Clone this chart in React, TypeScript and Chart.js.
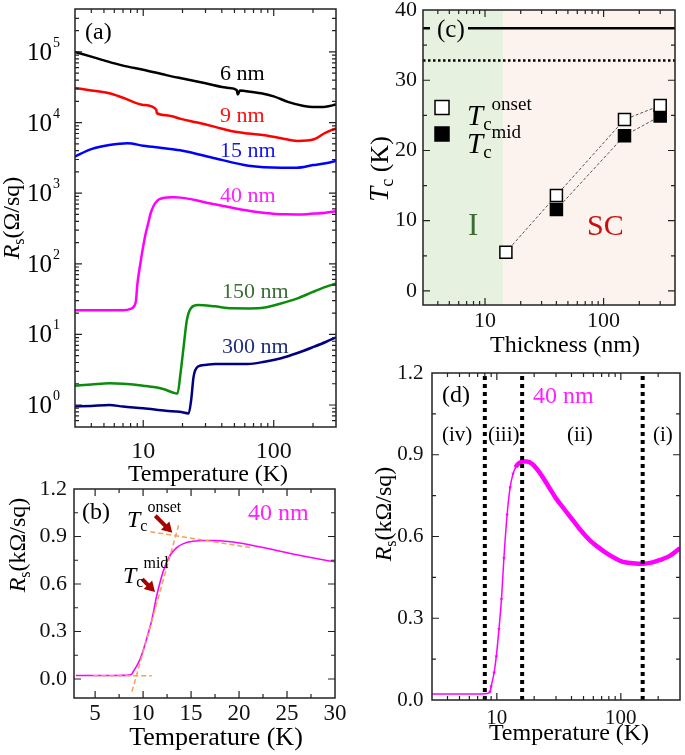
import { useEffect, useRef } from 'react';
import { Chart, registerables } from 'chart.js';
Chart.register(...registerables);

const W = 685;
const H = 755;
const FONT = '"Liberation Serif", "Times New Roman", Times, serif';

// ---------- (a) sheet resistance Rs (Ω/sq) vs temperature (K) ----------
const T6 = [3, 4, 5, 7, 10, 15, 20, 30, 45, 52, 53, 55, 60, 80, 100, 130, 170, 200, 250, 300];
const R6 = [1.0e5, 8.6e4, 7.6e4, 6.4e4, 5.6e4, 4.7e4, 4.2e4, 3.6e4, 3.1e4, 2.9e4, 2.5e4, 2.85e4, 2.8e4, 2.6e4, 2.35e4, 1.95e4, 1.72e4, 1.66e4, 1.68e4, 1.8e4];
const T9 = [3, 4, 5.5, 7, 10, 12.6, 12.7, 15, 19.7, 26, 35.5, 47, 63.5, 85, 114, 152, 204, 243, 300];
const R9 = [3.1e4, 2.85e4, 2.6e4, 2.25e4, 1.78e4, 1.52e4, 1.36e4, 1.27e4, 1.12e4, 1.0e4, 8.7e3, 7.6e3, 7.0e3, 6.6e3, 6.0e3, 5.5e3, 5.8e3, 7.0e3, 8.3e3];
const T15 = [3, 4, 5.5, 7.6, 10, 15, 20, 36, 64, 114, 150, 200, 250, 300];
const R15 = [3.3e3, 4.2e3, 4.8e3, 5.1e3, 4.7e3, 4.3e3, 4.0e3, 3.1e3, 2.45e3, 2.3e3, 2.3e3, 2.5e3, 2.65e3, 2.85e3];
// 40 nm film, in kΩ/sq (used in panels a, b, d)
const T40 = [3, 4, 5, 6, 7, 8, 8.5, 8.8, 9.0, 9.5, 9.9, 10.4, 10.9, 11.4, 12.1, 12.8, 13.5, 14.2, 15.2, 16.5, 17.5, 19.4, 22.5, 26.4, 30, 35, 41, 48, 56, 66, 77, 90, 104, 125, 150, 180, 207, 250, 300];
const R40 = [0.022, 0.022, 0.022, 0.022, 0.022, 0.023, 0.025, 0.03, 0.05, 0.10, 0.16, 0.26, 0.37, 0.52, 0.68, 0.78, 0.83, 0.855, 0.870, 0.875, 0.875, 0.865, 0.83, 0.78, 0.74, 0.70, 0.66, 0.62, 0.587, 0.56, 0.538, 0.52, 0.507, 0.502, 0.50, 0.505, 0.514, 0.53, 0.557];
const T150 = [3, 4, 5.5, 7, 10, 14, 17.7, 18.3, 19.3, 20.4, 21.6, 23.4, 26.3, 35, 47.6, 65, 85, 110, 152, 200, 250, 300];
const R150 = [1.88, 1.95, 2.03, 2.0, 1.88, 1.7, 1.46, 1.45, 2.8, 6.7, 16, 24, 26, 25, 23.4, 23.3, 24, 27, 32.4, 40, 47, 52.7];
const T300 = [3, 4, 5.5, 7, 10, 14.9, 19, 22.3, 23.3, 24.3, 26.3, 30, 35.5, 63, 85, 114, 150, 204, 250, 300];
const R300 = [0.95, 0.97, 1.0, 0.95, 0.9, 0.83, 0.8, 0.76, 1.18, 2.5, 3.5, 3.7, 3.8, 3.8, 4.1, 4.6, 5.4, 6.7, 7.8, 9.1];

// ---------- (b) tangent construction for 40 nm ----------
const baseT = [4.8, 10.9];
const baseR = [0.02, 0.02];
const steepT = [8.84, 13.7];
const steepR = [-0.08, 0.97];
const shallowT = [10.76, 21.2];
const shallowR = [0.93, 0.83];
const onsetMark = [13.04, 0.924];
const midMark = [11.24, 0.55];

// ---------- (c) Tc vs thickness ----------
const thickOnset = [15, 40, 150, 300];
const tcOnset = [5.5, 13.6, 24.4, 26.4];
const thickMid = [40, 150, 300];
const tcMid = [11.6, 22.1, 24.9];
const bulkSpan = [3, 400];
const bulkSolid = [37.4, 37.4];
const bulkDotted = [32.8, 32.8];
const insulatorEdge = [14.3];

// ---------- (d) regime boundaries (K) ----------
const regimeT = [8, 16, 150];
const regimeR = [0, 1.2];

// ---------- ticks ----------
const decadesA = [1, 10, 100, 1000, 10000, 100000];
const logTempTicks = [10, 100];
const linTempTicks = [5, 10, 15, 20, 25, 30];
const linTempMinor = [7.5, 12.5, 17.5, 22.5, 27.5];
const rTicks = [0, 0.3, 0.6, 0.9, 1.2];
const rMinor = [0.15, 0.45, 0.75, 1.05];
const tcTicks = [0, 10, 20, 30, 40];
const tcMinor = [5, 15, 25, 35];

function logMinors(min: number, max: number) {
  const out: number[] = [];
  for (let k = -1; k <= 5; k++) {
    for (let m = 2; m <= 9; m++) {
      const v = m * Math.pow(10, k);
      if (v > min * 1.0001 && v < max * 0.9999) out.push(v);
    }
  }
  return out;
}

const fontStr = (size: number, italic = false) => `${italic ? 'italic ' : ''}${size}px ${FONT}`;

type Part = { t: string; size: number; italic?: boolean; dy?: number };

function drawRich(ctx: CanvasRenderingContext2D, parts: Part[], x: number, y: number, align = 'left', color = '#000', rot = 0) {
  ctx.save();
  ctx.translate(x, y);
  if (rot) ctx.rotate(rot);
  let w = 0;
  for (const p of parts) {
    ctx.font = fontStr(p.size, p.italic);
    w += ctx.measureText(p.t).width;
  }
  let cx = align === 'center' ? -w / 2 : align === 'right' ? -w : 0;
  ctx.fillStyle = color;
  ctx.textAlign = 'left';
  ctx.textBaseline = 'alphabetic';
  for (const p of parts) {
    ctx.font = fontStr(p.size, p.italic);
    ctx.fillText(p.t, cx, p.dy || 0);
    cx += ctx.measureText(p.t).width;
  }
  ctx.restore();
}

function txt(ctx: CanvasRenderingContext2D, t: string, size: number, x: number, y: number, color = '#000', align = 'left') {
  drawRich(ctx, [{ t, size }], x, y, align, color);
}

function drawFrame(chart: any, xMaj: number[], xMin: number[], yMaj: number[], yMin: number[]) {
  const { ctx, chartArea: a } = chart;
  const xs = chart.scales.x;
  const ys = chart.scales.y;
  ctx.save();
  ctx.strokeStyle = '#222';
  ctx.lineWidth = 1.2;
  ctx.beginPath();
  const vx = (v: number, len: number) => {
    const p = xs.getPixelForValue(v);
    if (p < a.left + 1 || p > a.right - 1) return;
    ctx.moveTo(p, a.bottom);
    ctx.lineTo(p, a.bottom - len);
    ctx.moveTo(p, a.top);
    ctx.lineTo(p, a.top + len);
  };
  const vy = (v: number, len: number) => {
    const p = ys.getPixelForValue(v);
    if (p < a.top + 1 || p > a.bottom - 1) return;
    ctx.moveTo(a.left, p);
    ctx.lineTo(a.left + len, p);
    ctx.moveTo(a.right, p);
    ctx.lineTo(a.right - len, p);
  };
  xMaj.forEach((v) => vx(v, 7));
  xMin.forEach((v) => vx(v, 4));
  yMaj.forEach((v) => vy(v, 7));
  yMin.forEach((v) => vy(v, 4));
  ctx.stroke();
  ctx.lineWidth = 1.5;
  ctx.strokeRect(a.left, a.top, a.right - a.left, a.bottom - a.top);
  ctx.restore();
}

function arrow(ctx: CanvasRenderingContext2D, tx: number, ty: number, len: number, color: string) {
  const dx = Math.SQRT1_2;
  const dy = Math.SQRT1_2;
  const head = 10;
  const hw = 6;
  const bx = tx - dx * head;
  const by = ty - dy * head;
  const sx = tx - dx * len;
  const sy = ty - dy * len;
  const nx = -dy;
  const ny = dx;
  ctx.save();
  ctx.strokeStyle = color;
  ctx.fillStyle = color;
  ctx.lineWidth = 4;
  ctx.beginPath();
  ctx.moveTo(sx, sy);
  ctx.lineTo(bx + dx, by + dy);
  ctx.stroke();
  ctx.beginPath();
  ctx.moveTo(tx, ty);
  ctx.lineTo(bx + nx * hw, by + ny * hw);
  ctx.lineTo(bx - nx * hw, by - ny * hw);
  ctx.closePath();
  ctx.fill();
  ctx.restore();
}

const pts = (xs: number[], ys: number[], k = 1) => xs.map((x, i) => ({ x, y: ys[i] * k }));

function lineDs(xs: number[], ys: number[], color: string, width = 2.5, k = 1, extra: any = {}) {
  return {
    data: pts(xs, ys, k),
    borderColor: color,
    backgroundColor: color,
    borderWidth: width,
    pointRadius: 0,
    fill: false,
    cubicInterpolationMode: 'monotone',
    ...extra,
  };
}

type Area = { l: number; t: number; r: number; b: number };

function axis(type: string, min: number, max: number, ticks: number[], fmt: (v: number) => string, size: number, padding: number) {
  return {
    type,
    min,
    max,
    grid: { display: false, drawTicks: false },
    border: { display: false },
    afterBuildTicks: (s: any) => {
      s.ticks = ticks.map((value) => ({ value }));
    },
    ticks: {
      autoSkip: false,
      maxRotation: 0,
      minRotation: 0,
      padding,
      color: '#111',
      font: { family: FONT, size },
      callback: (v: any) => fmt(Number(v)),
    },
  };
}

function build(canvas: HTMLCanvasElement, area: Area, x: any, y: any, datasets: any[], plugin: any) {
  x.afterFit = (s: any) => {
    s.height = H - area.b;
    s.paddingLeft = 0;
    s.paddingRight = 0;
    s.paddingTop = 0;
    s.paddingBottom = 0;
  };
  y.afterFit = (s: any) => {
    s.width = area.l;
    s.paddingLeft = 0;
    s.paddingRight = 0;
    s.paddingTop = 0;
    s.paddingBottom = 0;
  };
  return new Chart(canvas, {
    type: 'line',
    data: { datasets },
    options: {
      responsive: false,
      maintainAspectRatio: false,
      animation: false,
      events: [],
      layout: { padding: { left: 0, top: area.t, right: W - area.r, bottom: 0 } },
      plugins: { legend: { display: false }, tooltip: { enabled: false } },
      scales: { x, y },
    } as any,
    plugins: [plugin],
  } as any);
}

const fmtInt = (v: number) => String(Math.round(v));
const fmt1 = (v: number) => v.toFixed(1);

function makeA(canvas: HTMLCanvasElement) {
  const area = { l: 75, t: 9, r: 336, b: 427 };
  const yMin = 0.488;
  const yMax = 4.06e5;
  const x = axis('logarithmic', 3, 300, logTempTicks, fmtInt, 24, 10);
  const y = axis('logarithmic', yMin, yMax, decadesA, () => '', 24, 8);
  const ds = [
    lineDs(T6, R6, '#000000'),
    lineDs(T9, R9, '#ff0000'),
    lineDs(T15, R15, '#0000ff'),
    lineDs(T40, R40, '#ff00ff', 2.5, 1000),
    lineDs(T150, R150, '#0c8c0c'),
    lineDs(T300, R300, '#000080'),
  ];
  const plugin = {
    id: 'panelA',
    afterDraw(chart: any) {
      const ctx = chart.ctx;
      const a = chart.chartArea;
      const ys = chart.scales.y;
      drawFrame(chart, logTempTicks, logMinors(3, 300), decadesA, logMinors(yMin, yMax));
      for (const d of decadesA) {
        const p = ys.getPixelForValue(d);
        const e = Math.round(Math.log10(d));
        drawRich(ctx, [{ t: '10', size: 25 }], a.left - 23, p + 8, 'right');
        drawRich(ctx, [{ t: String(e), size: 14 }], a.left - 22, p - 5, 'left');
      }
      txt(ctx, '(a)', 24, 85, 39);
      txt(ctx, '6 nm', 22, 220, 80, '#000');
      txt(ctx, '9 nm', 22, 220, 122, '#ff1010');
      txt(ctx, '15 nm', 22, 220, 157, '#1515f0');
      txt(ctx, '40 nm', 22, 220, 202, '#ff20ff');
      txt(ctx, '150 nm', 22, 222, 298, '#3b6e35');
      txt(ctx, '300 nm', 22, 222, 353, '#1f2f7f');
      drawRich(ctx, [{ t: 'Temperature (K)', size: 24 }], 208, 481, 'center');
      drawRich(
        ctx,
        [
          { t: 'R', size: 24, italic: true },
          { t: 's', size: 16, dy: 5 },
          { t: '(Ω/sq)', size: 24 },
        ],
        19,
        218,
        'center',
        '#000',
        -Math.PI / 2,
      );
    },
  };
  return build(canvas, area, x, y, ds, plugin);
}

function makeB(canvas: HTMLCanvasElement) {
  const area = { l: 74, t: 489, r: 335, b: 698 };
  const x = axis('linear', 2.8, 30, linTempTicks, fmtInt, 23, 2);
  const y = axis('linear', -0.12, 1.2, rTicks, fmt1, 22, 7);
  const orange = '#f5a157';
  const ds = [
    lineDs(baseT, baseR, orange, 1.5, 1, { borderDash: [5, 3], order: 0 }),
    lineDs(steepT, steepR, orange, 1.5, 1, { borderDash: [5, 3], order: 0 }),
    lineDs(shallowT, shallowR, orange, 1.5, 1, { borderDash: [5, 3], order: 0 }),
    lineDs(T40, R40, '#ff00ff', 1.6, 1, { order: 1 }),
  ];
  const plugin = {
    id: 'panelB',
    afterDraw(chart: any) {
      const ctx = chart.ctx;
      const xs = chart.scales.x;
      const ys = chart.scales.y;
      drawFrame(chart, linTempTicks, linTempMinor, rTicks, rMinor);
      const red = '#a80000';
      arrow(ctx, xs.getPixelForValue(onsetMark[0]), ys.getPixelForValue(onsetMark[1]), 24, red);
      arrow(ctx, xs.getPixelForValue(midMark[0]), ys.getPixelForValue(midMark[1]), 18, red);
      txt(ctx, '(b)', 24, 82, 519);
      txt(ctx, '40 nm', 24, 248, 520, '#ff20ff');
      drawRich(ctx, [{ t: 'T', size: 24, italic: true }, { t: 'c', size: 16, dy: 4 }, { t: 'onset', size: 16, dy: -15 }], 127, 527);
      drawRich(ctx, [{ t: 'T', size: 24, italic: true }, { t: 'c', size: 16, dy: 4 }, { t: 'mid', size: 16, dy: -15 }], 123, 583);
      drawRich(ctx, [{ t: 'Temperature (K)', size: 26 }], 216, 745, 'center');
      drawRich(
        ctx,
        [
          { t: 'R', size: 24, italic: true },
          { t: 's', size: 16, dy: 5 },
          { t: '(kΩ/sq)', size: 24 },
        ],
        25,
        545,
        'center',
        '#000',
        -Math.PI / 2,
      );
    },
  };
  return build(canvas, area, x, y, ds, plugin);
}

function makeC(canvas: HTMLCanvasElement) {
  const area = { l: 423, t: 8, r: 683, b: 305 };
  const x = axis('logarithmic', 3, 400, logTempTicks, fmtInt, 22, 3);
  const y = axis('linear', -2, 40, tcTicks, fmtInt, 22, 6);
  const green = '#e6f2df';
  const pink = '#fdf3ee';
  const ds = [
    lineDs(bulkSpan, bulkSolid, '#000', 2.5, 1, { order: 3 }),
    lineDs(bulkSpan, bulkDotted, '#000', 2.5, 1, { borderDash: [2.5, 2.5], order: 3 }),
    {
      data: pts(thickOnset, tcOnset),
      borderColor: '#555',
      borderWidth: 1,
      borderDash: [3, 2],
      pointStyle: 'rect',
      pointRadius: 8.5,
      pointBorderWidth: 1.5,
      pointBorderColor: '#000',
      pointBackgroundColor: '#fff',
      fill: false,
      order: 1,
    },
    {
      data: pts(thickMid, tcMid),
      borderColor: '#555',
      borderWidth: 1,
      borderDash: [3, 2],
      pointStyle: 'rect',
      pointRadius: 8.5,
      pointBorderWidth: 1.5,
      pointBorderColor: '#000',
      pointBackgroundColor: '#000',
      fill: false,
      order: 2,
    },
  ];
  const plugin = {
    id: 'panelC',
    beforeDatasetsDraw(chart: any) {
      const ctx = chart.ctx;
      const a = chart.chartArea;
      const px = chart.scales.x.getPixelForValue(insulatorEdge[0]);
      ctx.save();
      ctx.fillStyle = green;
      ctx.fillRect(a.left, a.top, px - a.left, a.bottom - a.top);
      ctx.fillStyle = pink;
      ctx.fillRect(px, a.top, a.right - px, a.bottom - a.top);
      ctx.restore();
    },
    afterDraw(chart: any) {
      const ctx = chart.ctx;
      ctx.save();
      ctx.fillStyle = green;
      ctx.fillRect(430, 13, 38, 30);
      ctx.restore();
      txt(ctx, '(c)', 25, 437, 37);
      // legend
      ctx.save();
      ctx.lineWidth = 1.5;
      ctx.strokeStyle = '#000';
      ctx.fillStyle = '#fff';
      ctx.fillRect(435, 100.5, 14, 14);
      ctx.strokeRect(435, 100.5, 14, 14);
      ctx.fillStyle = '#000';
      ctx.fillRect(435, 127, 14, 14);
      ctx.strokeRect(435, 127, 14, 14);
      ctx.restore();
      drawRich(ctx, [{ t: 'T', size: 29, italic: true }, { t: 'c', size: 19, dy: 5 }, { t: 'onset', size: 19, dy: -15 }], 467, 125);
      drawRich(ctx, [{ t: 'T', size: 29, italic: true }, { t: 'c', size: 19, dy: 5 }, { t: 'mid', size: 19, dy: -15 }], 467, 153);
      txt(ctx, 'I', 31, 468, 235, '#3d6b35');
      txt(ctx, 'SC', 30, 587, 235, '#c80f0f');
      drawFrame(chart, logTempTicks, logMinors(3, 400), tcTicks, tcMinor);
      drawRich(ctx, [{ t: 'Thickness (nm)', size: 24 }], 565, 352, 'center');
      drawRich(
        ctx,
        [
          { t: 'T', size: 27, italic: true },
          { t: 'c', size: 18, dy: 5 },
          { t: ' (K)', size: 26 },
        ],
        388,
        169,
        'center',
        '#000',
        -Math.PI / 2,
      );
    },
  };
  return build(canvas, area, x, y, ds, plugin);
}

function makeD(canvas: HTMLCanvasElement) {
  const area = { l: 432, t: 373, r: 680, b: 700 };
  const x = axis('logarithmic', 3, 300, logTempTicks, fmtInt, 21, 6);
  const y = axis('linear', 0, 1.2, rTicks, fmt1, 21, 8.5);
  const ds: any[] = regimeT.map((t) =>
    lineDs([t, t], regimeR, '#000', 4, 1, { borderDash: [4, 4], order: 0, cubicInterpolationMode: 'default' }),
  );
  ds.push(
    lineDs(T40, R40, '#ff00ff', 1.5, 1, {
      order: 1,
      segment: { borderWidth: (c: any) => (T40[c.p0DataIndex] >= 14.2 ? 4.5 : 1.5) },
      pointStyle: 'triangle',
      rotation: 180,
      pointRadius: (c: any) => (T40[c.dataIndex] > 8.6 && T40[c.dataIndex] < 14.5 ? 2 : 0),
      pointBorderWidth: 0,
    }),
  );
  const plugin = {
    id: 'panelD',
    afterDraw(chart: any) {
      const ctx = chart.ctx;
      drawFrame(chart, logTempTicks, logMinors(3, 300), rTicks, rMinor);
      txt(ctx, '(d)', 24, 442, 402);
      txt(ctx, '40 nm', 24, 533, 403, '#ff20ff');
      txt(ctx, '(iv)', 21, 442, 441);
      txt(ctx, '(iii)', 21, 488, 441);
      txt(ctx, '(ii)', 21, 567, 441);
      txt(ctx, '(i)', 21, 653, 441);
      drawRich(ctx, [{ t: 'Temperature (K)', size: 24 }], 569, 740, 'center');
      drawRich(
        ctx,
        [
          { t: 'R', size: 24, italic: true },
          { t: 's', size: 16, dy: 5 },
          { t: '(kΩ/sq)', size: 24 },
        ],
        391,
        514,
        'center',
        '#000',
        -Math.PI / 2,
      );
    },
  };
  return build(canvas, area, x, y, ds, plugin);
}

export default function App() {
  const r0 = useRef<HTMLCanvasElement>(null);
  const r1 = useRef<HTMLCanvasElement>(null);
  const r2 = useRef<HTMLCanvasElement>(null);
  const r3 = useRef<HTMLCanvasElement>(null);
  useEffect(() => {
    const charts = [makeA(r0.current!), makeB(r1.current!), makeC(r2.current!), makeD(r3.current!)];
    return () => charts.forEach((c) => c.destroy());
  }, []);
  const st: any = { position: 'absolute', left: 0, top: 0, width: W, height: H };
  return (
    <div style={{ position: 'absolute', left: 0, top: 0, width: W, height: H, background: '#fff', overflow: 'hidden' }}>
      <canvas ref={r0} width={W} height={H} style={st} />
      <canvas ref={r1} width={W} height={H} style={st} />
      <canvas ref={r2} width={W} height={H} style={st} />
      <canvas ref={r3} width={W} height={H} style={st} />
    </div>
  );
}
